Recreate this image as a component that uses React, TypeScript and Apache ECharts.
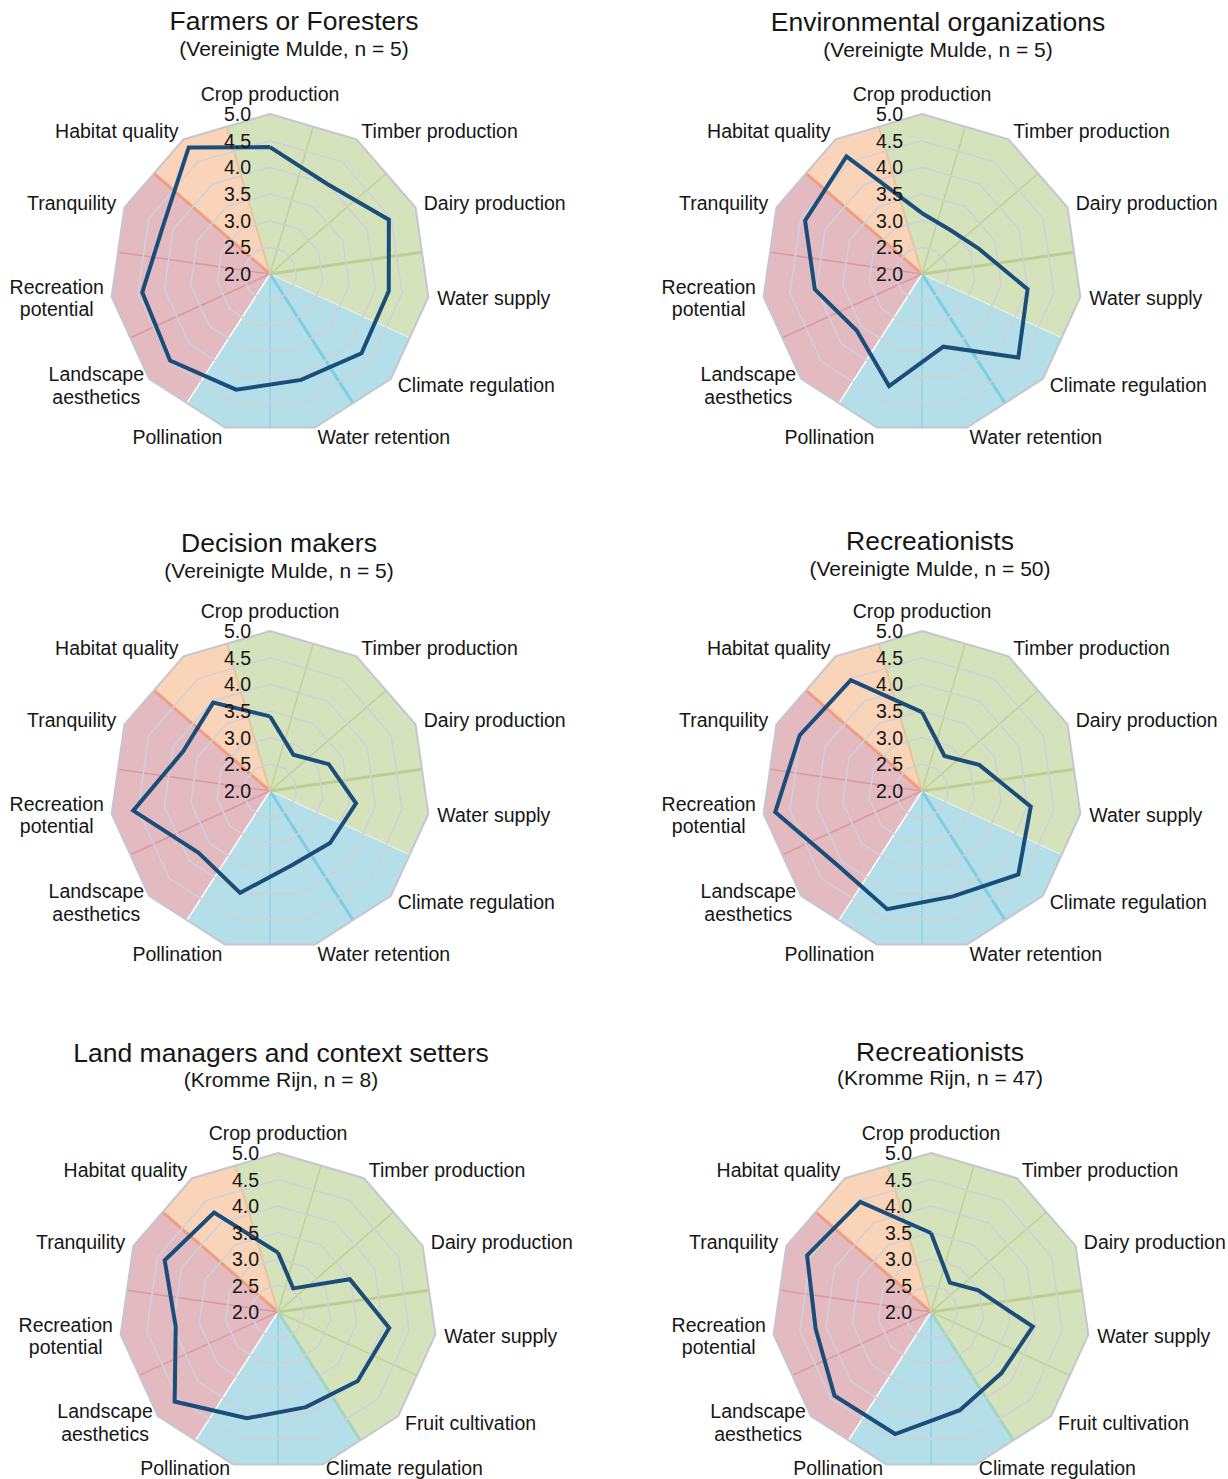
import React, { useEffect, useRef } from "react";
import * as echarts from "echarts";

// ---------------- data ----------------
const VM_CATEGORIES = [
  "Crop production",
  "Timber production",
  "Dairy production",
  "Water supply",
  "Climate regulation",
  "Water retention",
  "Pollination",
  "Landscape\naesthetics",
  "Recreation\npotential",
  "Tranquility",
  "Habitat quality",
];
const KR_CATEGORIES = [
  "Crop production",
  "Timber production",
  "Dairy production",
  "Water supply",
  "Fruit cultivation",
  "Climate regulation",
  "Pollination",
  "Landscape\naesthetics",
  "Recreation\npotential",
  "Tranquility",
  "Habitat quality",
];
const VM_GROUPS = ["prov", "prov", "prov", "prov", "reg", "reg", "reg", "cult", "cult", "cult", "hab"];
const KR_GROUPS = ["prov", "prov", "prov", "prov", "prov", "reg", "reg", "cult", "cult", "cult", "hab"];

const TICK_VALUES = [2.0, 2.5, 3.0, 3.5, 4.0, 4.5, 5.0];
const TICK_LABELS = ["2.0", "2.5", "3.0", "3.5", "4.0", "4.5", "5.0"];

const FARMERS_VM = [4.38, 4.0, 4.45, 4.25, 4.27, 4.07, 4.26, 4.48, 4.42, 4.2, 4.82];
const ENV_ORG_VM = [3.14, 2.98, 3.16, 4.0, 4.39, 3.42, 4.19, 3.62, 4.03, 4.41, 4.62];
const DECISION_VM = [3.4, 2.81, 3.21, 3.63, 3.49, 3.45, 3.99, 3.77, 4.59, 3.79, 3.97];
const RECREATION_VM = [3.48, 2.78, 3.18, 4.06, 4.39, 4.06, 4.31, 4.11, 4.78, 4.52, 4.47];
const LANDMANAGERS_KR = [3.12, 2.53, 3.49, 4.12, 3.99, 3.87, 4.09, 4.58, 3.95, 4.35, 4.23];
const RECREATION_KR = [3.49, 2.66, 2.98, 3.94, 3.76, 3.93, 4.4, 4.41, 4.2, 4.57, 4.47];

const TITLES = [
  "Farmers or Foresters",
  "Environmental organizations",
  "Decision makers",
  "Recreationists",
  "Land managers and context setters",
  "Recreationists",
];
const SUBTITLES = [
  "(Vereinigte Mulde, n = 5)",
  "(Vereinigte Mulde, n = 5)",
  "(Vereinigte Mulde, n = 5)",
  "(Vereinigte Mulde, n = 50)",
  "(Kromme Rijn, n = 8)",
  "(Kromme Rijn, n = 47)",
];

// ---------------- styles / layout ----------------
const FONT_FAMILY = '"Liberation Sans", Arial, Helvetica, sans-serif';
const TEXT = "#161616";
const LABEL_SIZE = 19.5;
const TITLE_SIZE = 26.5;
const SUBTITLE_SIZE = 21;
const FILL: Record<string, string> = {
  prov: "#d5e3bd",
  reg: "#b4dee8",
  cult: "#e4bac1",
  hab: "#f9d4b8",
};
const INNER_LINE: Record<string, string> = {
  prov: "#bfd197",
  reg: "#8fd3e3",
  cult: "#d899a2",
  hab: "#efb08f",
};

const PANELS = [
  { cats: VM_CATEGORIES, groups: VM_GROUPS, values: FARMERS_VM, cx: 270, cy: 274, r: 160, tx: 294, ty: 21, sy: 48, bottomDy: null as number | null },
  { cats: VM_CATEGORIES, groups: VM_GROUPS, values: ENV_ORG_VM, cx: 922, cy: 274, r: 160, tx: 938, ty: 22, sy: 49, bottomDy: null },
  { cats: VM_CATEGORIES, groups: VM_GROUPS, values: DECISION_VM, cx: 270, cy: 791, r: 160, tx: 279, ty: 543, sy: 570, bottomDy: null },
  { cats: VM_CATEGORIES, groups: VM_GROUPS, values: RECREATION_VM, cx: 922, cy: 791, r: 160, tx: 930, ty: 541, sy: 568, bottomDy: null },
  { cats: KR_CATEGORIES, groups: KR_GROUPS, values: LANDMANAGERS_KR, cx: 278, cy: 1312, r: 159, tx: 281, ty: 1053, sy: 1079, bottomDy: 3 },
  { cats: KR_CATEGORIES, groups: KR_GROUPS, values: RECREATION_KR, cx: 931, cy: 1312, r: 159, tx: 940, ty: 1052, sy: 1077, bottomDy: 3 },
];

function boundaryStyle(groups: string[], b: number) {
  const n = groups.length;
  const g1 = groups[b];
  const g2 = groups[(b + 1) % n];
  if (b === 2) return { stroke: "#bccf92", lineWidth: 3 };
  if (g1 === g2) {
    if (b === 4) return { stroke: "#7ccfe2", lineWidth: 3 };
    return { stroke: INNER_LINE[g1], lineWidth: 1.5 };
  }
  if (g1 === "prov" && g2 === "reg") {
    if (b === 4) return { stroke: "#a3d5c3", lineWidth: 3 };
    return { stroke: "rgba(255,255,255,0.6)", lineWidth: 1 };
  }
  if (g1 === "reg" && g2 === "cult") return { stroke: "#ffffff", lineWidth: 1.5 };
  if (g1 === "cult" && g2 === "hab") return { stroke: "#ee9e82", lineWidth: 3 };
  if (g1 === "hab" && g2 === "prov") return { stroke: "#e7c59b", lineWidth: 2 };
  return { stroke: "#cccccc", lineWidth: 1 };
}

function textStyle(text: string, size: number, align: string, vAlign: string, lineHeight?: number) {
  return {
    text,
    fill: TEXT,
    font: `normal ${size}px ${FONT_FAMILY}`,
    align,
    textAlign: align,
    verticalAlign: vAlign,
    textVerticalAlign: vAlign,
    lineHeight: lineHeight ?? Math.round(size),
  };
}

function buildOption() {
  const polar: any[] = [];
  const angleAxis: any[] = [];
  const radiusAxis: any[] = [];
  const series: any[] = [];
  const graphic: any[] = [];

  PANELS.forEach((p, i) => {
    const n = p.cats.length;
    const step = 360 / n;
    polar.push({ center: [p.cx, p.cy], radius: p.r });
    angleAxis.push({
      polarIndex: i,
      type: "value",
      min: 0,
      max: 360,
      startAngle: 90,
      clockwise: true,
      show: false,
    });
    radiusAxis.push({ polarIndex: i, type: "value", min: 2, max: 5, show: false });

    const catData = p.cats.map((_, k) => [5, k * step]);

    // coloured wedges
    series.push({
      type: "custom",
      coordinateSystem: "polar",
      polarIndex: i,
      silent: true,
      z: 1,
      data: catData,
      renderItem: (params: any, api: any) => {
        const k = params.dataIndex;
        const c = api.coord([2, 0]);
        const v = api.coord([5, k * step]);
        const vp = api.coord([5, ((k - 1 + n) % n) * step]);
        const vn = api.coord([5, ((k + 1) % n) * step]);
        const mL = [(vp[0] + v[0]) / 2, (vp[1] + v[1]) / 2];
        const mR = [(vn[0] + v[0]) / 2, (vn[1] + v[1]) / 2];
        return {
          type: "polygon",
          shape: { points: [c, mL, v, mR] },
          style: { fill: FILL[p.groups[k]], stroke: null },
        };
      },
    });

    // boundary lines and grid rings
    series.push({
      type: "custom",
      coordinateSystem: "polar",
      polarIndex: i,
      silent: true,
      z: 2,
      data: [[5, 0]],
      renderItem: (_params: any, api: any) => {
        const children: any[] = [];
        const c = api.coord([2, 0]);
        for (let b = 0; b < n; b++) {
          const a = api.coord([5, b * step]);
          const bb = api.coord([5, ((b + 1) % n) * step]);
          const m = [(a[0] + bb[0]) / 2, (a[1] + bb[1]) / 2];
          const st = boundaryStyle(p.groups, b);
          children.push({
            type: "line",
            shape: { x1: c[0], y1: c[1], x2: m[0], y2: m[1] },
            style: { stroke: st.stroke, lineWidth: st.lineWidth },
          });
        }
        TICK_VALUES.forEach((tv) => {
          if (tv <= 2) return;
          const pts: number[][] = [];
          for (let k = 0; k < n; k++) pts.push(api.coord([tv, k * step]));
          const outer = tv >= 5;
          children.push({
            type: "polygon",
            shape: { points: pts },
            style: {
              fill: null,
              stroke: outer ? "#c4c7d0" : "#cfd1d8",
              lineWidth: outer ? 2 : 1.6,
            },
          });
        });
        return { type: "group", children };
      },
    });

    // data polygon
    const lineData = p.values.map((v, k) => [v, k * step]);
    lineData.push([p.values[0], 360]);
    series.push({
      type: "line",
      coordinateSystem: "polar",
      polarIndex: i,
      z: 3,
      silent: true,
      symbol: "none",
      data: lineData,
      lineStyle: { color: "#1a4d7a", width: 4, join: "miter" },
    });

    // category labels
    series.push({
      type: "custom",
      coordinateSystem: "polar",
      polarIndex: i,
      silent: true,
      z: 4,
      data: catData,
      renderItem: (params: any, api: any) => {
        const k = params.dataIndex;
        const c = api.coord([2, 0]);
        const v = api.coord([5, k * step]);
        let dx = v[0] - c[0];
        let dy = v[1] - c[1];
        const len = Math.hypot(dx, dy) || 1;
        dx /= len;
        dy /= len;
        let x = v[0] + dx * 9;
        let y = v[1] + dy * 10;
        let align = Math.abs(dx) < 0.2 ? "center" : dx > 0 ? "left" : "right";
        if (Math.abs(dx) < 0.2 && dy < 0) y = v[1] - 20;
        if (p.bottomDy != null && dy > 0.9) {
          y = v[1] + p.bottomDy;
          x = v[0] + (dx > 0 ? 3 : -3);
        }
        const text = p.cats[k];
        let lh = Math.round(LABEL_SIZE);
        if (text.indexOf("\n") >= 0) {
          x += align === "right" ? -46 : 46;
          align = "center";
          lh = 22.5;
        }
        return { type: "text", x, y, style: textStyle(text, LABEL_SIZE, align, "middle", lh) };
      },
    });

    // value (tick) labels
    series.push({
      type: "custom",
      coordinateSystem: "polar",
      polarIndex: i,
      silent: true,
      z: 5,
      data: TICK_VALUES.map((tv) => [tv, 0]),
      renderItem: (params: any, api: any) => {
        const idx = params.dataIndex;
        const pt = api.coord([TICK_VALUES[idx], 0]);
        return {
          type: "text",
          x: pt[0] - 19,
          y: pt[1],
          style: textStyle(TICK_LABELS[idx], LABEL_SIZE, "right", "middle"),
        };
      },
    });

    graphic.push({
      type: "text",
      x: p.tx,
      y: p.ty,
      silent: true,
      style: textStyle(TITLES[i], TITLE_SIZE, "center", "middle"),
    });
    graphic.push({
      type: "text",
      x: p.tx,
      y: p.sy,
      silent: true,
      style: textStyle(SUBTITLES[i], SUBTITLE_SIZE, "center", "middle"),
    });
  });

  return {
    animation: false,
    backgroundColor: "#ffffff",
    polar,
    angleAxis,
    radiusAxis,
    series,
    graphic,
  };
}

export default function App() {
  const ref = useRef<HTMLDivElement | null>(null);
  useEffect(() => {
    if (!ref.current) return;
    const chart = echarts.init(ref.current, undefined, { renderer: "svg" });
    chart.setOption(buildOption() as any);
    return () => chart.dispose();
  }, []);
  return (
    <div
      ref={ref}
      style={{ position: "absolute", left: 0, top: 0, width: 1228, height: 1479 }}
    />
  );
}
